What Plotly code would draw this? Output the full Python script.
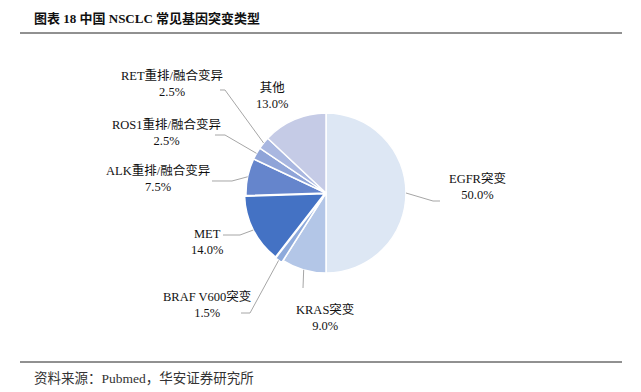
import math
import plotly.graph_objects as go

# ---- data ----
categories = ["EGFR突变", "KRAS突变", "BRAF V600突变", "MET", "ALK重排/融合变异",
              "ROS1重排/融合变异", "RET重排/融合变异", "其他"]
values = [50.0, 9.0, 1.5, 14.0, 7.5, 2.5, 2.5, 13.0]
colors = ["#dde7f4", "#b3c6e7", "#8eaadb", "#4472c4", "#6585cc",
          "#8fa4d8", "#a9b7e0", "#c5cbe6"]
pulls = [0, 0, 0.03, 0.02, 0, 0, 0, 0]

W, H = 641, 392
FONT = "Liberation Serif, Times New Roman, Noto Sans CJK SC"

# pie geometry (pixels)
cx, cy, R = 326, 193, 80
maxpull = max(pulls)
half = R * (1 + maxpull)


def px(x):
    return x / W


def py(y):
    return 1 - y / H


fig = go.Figure()
fig.add_trace(go.Pie(
    labels=categories, values=values, sort=False, direction="clockwise",
    rotation=0, pull=pulls, textinfo="none", hoverinfo="skip",
    marker=dict(colors=colors, line=dict(color="white", width=1.5)),
    domain=dict(x=[px(cx - half), px(cx + half)], y=[py(cy + half), py(cy - half)]),
    showlegend=False,
))

# label layout: (text-center x, text-center y of first line, elbow point, end point)
label_layout = {
    "EGFR突变": (477, 178, (433, 201), (440, 201)),
    "KRAS突变": (325, 309, None, (303, 288)),
    "BRAF V600突变": (207, 296, (250, 313), (241, 313)),
    "MET": (207, 234, (240, 235), (223, 235)),
    "ALK重排/融合变异": (158, 170, (232, 181), (212, 181)),
    "ROS1重排/融合变异": (166, 124, (225, 135), (215, 135)),
    "RET重排/融合变异": (172, 75, (225, 90), (220, 90)),
    "其他": (272, 88, None, None),
}

total = sum(values)
cum = 0
shapes = []
annotations = []
for cat, v, p in zip(categories, values, pulls):
    mid = (cum + v / 2) / total * 2 * math.pi
    cum += v
    tx, ty, elbow, end = label_layout[cat]
    rr = R * (1 + p)
    sx = cx + rr * math.sin(mid)
    sy = cy - rr * math.cos(mid)
    if end is not None:
        pts = [(sx, sy)]
        if elbow is not None:
            pts.append(elbow)
        pts.append(end)
        path = "M " + " L ".join(f"{px(x):.5f},{py(y):.5f}" for x, y in pts)
        shapes.append(dict(type="path", path=path, xref="paper", yref="paper",
                           line=dict(color="#a6a6a6", width=1)))
    annotations.append(dict(
        x=px(tx), y=py(ty + 8), xref="paper", yref="paper",
        text=f"{cat}<br>{v:.1f}%", showarrow=False, align="center",
        xanchor="center", yanchor="middle",
        font=dict(family=FONT, size=12.5, color="#111111"),
    ))

# title and source
annotations.append(dict(
    x=px(32), y=py(18), xref="paper", yref="paper", xanchor="left", yanchor="middle",
    text="<b>图表 18 中国 NSCLC 常见基因突变类型</b>", showarrow=False,
    font=dict(family=FONT, size=13, color="#111111"),
))
annotations.append(dict(
    x=px(32), y=py(378), xref="paper", yref="paper", xanchor="left", yanchor="middle",
    text="资料来源：Pubmed，华安证券研究所", showarrow=False,
    font=dict(family=FONT, size=13.5, color="#333333"),
))
shapes.append(dict(type="line", xref="paper", yref="paper", x0=px(20), x1=px(622),
                   y0=py(33), y1=py(33), line=dict(color="#222222", width=1)))
shapes.append(dict(type="line", xref="paper", yref="paper", x0=px(20), x1=px(622),
                   y0=py(362), y1=py(362), line=dict(color="#222222", width=1)))

fig.update_layout(
    width=W, height=H, margin=dict(l=0, r=0, t=0, b=0),
    paper_bgcolor="white", plot_bgcolor="white",
    shapes=shapes, annotations=annotations, showlegend=False,
)
fig.write_html("out.html", config={"displayModeBar": False},
               post_script="document.body.style.margin='0px';")
